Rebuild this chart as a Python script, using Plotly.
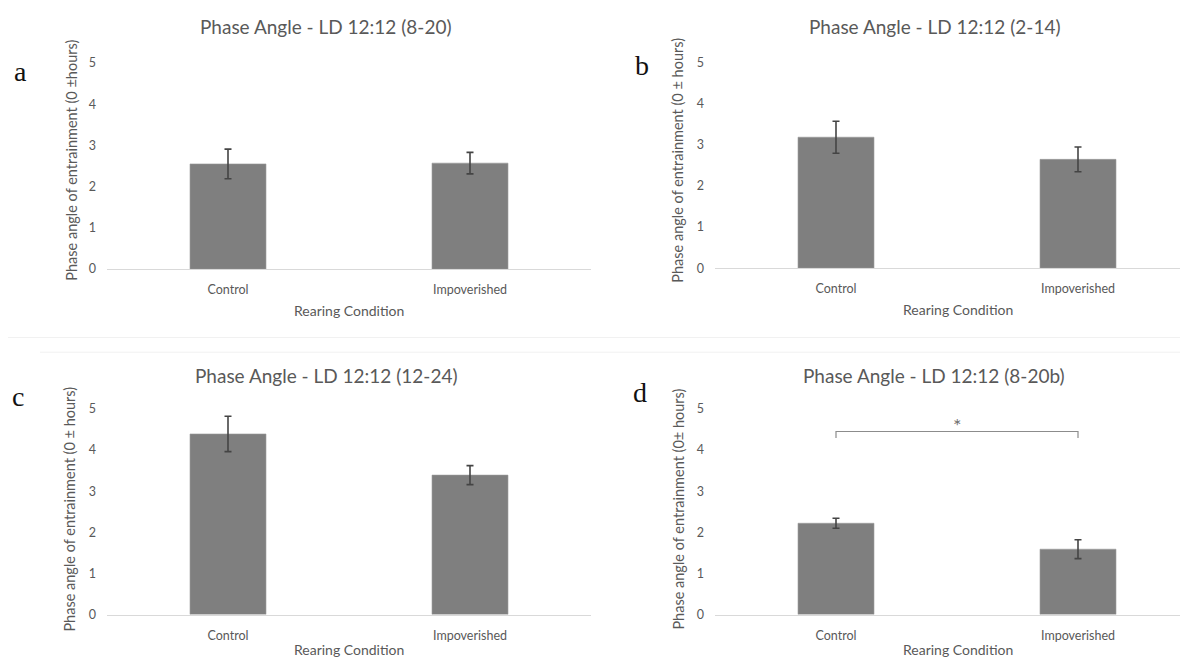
import plotly.graph_objects as go

# ---------------- data ----------------
categories = ["Control", "Impoverished"]

titles = [
    "Phase Angle - LD 12:12 (8-20)",
    "Phase Angle - LD 12:12 (2-14)",
    "Phase Angle - LD 12:12 (12-24)",
    "Phase Angle - LD 12:12 (8-20b)",
]
panel_letters = ["a", "b", "c", "d"]
y_titles = [
    "Phase angle of entrainment (0 ±hours)",
    "Phase angle of entrainment (0 ± hours)",
    "Phase angle of entrainment (0 ± hours)",
    "Phase angle of entrainment (0± hours)",
]
x_title = "Rearing Condition"

means_a = [2.55, 2.57]
errs_a = [0.36, 0.26]
means_b = [3.19, 2.65]
errs_b = [0.39, 0.30]
means_c = [4.39, 3.39]
errs_c = [0.43, 0.23]
means_d = [2.22, 1.59]
errs_d = [0.12, 0.23]

y_ticks = [0, 1, 2, 3, 4, 5]

# significance bracket in panel d
sig_pair = [0, 1]          # category indices
sig_level = 4.45
sig_drop = 4.29
sig_label = "*"
sig_label_y = 4.62

means = [means_a, means_b, means_c, means_d]
errs = [errs_a, errs_b, errs_c, errs_d]

# ---------------- layout geometry (pixels of the 1188x669 window) ----------------
WIN_W, WIN_H = 1188, 669
OFF = 8                      # default page body margin
W, H = WIN_W - OFF, WIN_H - OFF
FONT = "Lato, 'Open Sans', sans-serif"
GREY_TXT = "#595959"


def px(x):
    return (x - OFF) / W


def py(y):
    return 1 - (y - OFF) / H


# plot areas: (left, right, top(5), bottom(0)) in window pixels
areas = [
    (107, 591, 56, 267),
    (715, 1199, 56, 266),
    (107, 591, 410, 620.5),
    (715, 1199, 410, 620.5),
]

fig = go.Figure()

for i in range(4):
    n = "" if i == 0 else str(i + 1)
    fig.add_trace(go.Bar(
        x=categories, y=means[i],
        xaxis="x" + n, yaxis="y" + n,
        width=0.314,
        marker=dict(color="#7f7f7f", line=dict(color="#9a9a9a", width=0.6)),
        error_y=dict(type="data", array=errs[i], visible=True,
                     color="#444444", thickness=1.6, width=3.5),
        showlegend=False, hoverinfo="skip",
    ))
    left, right, top, bottom = areas[i]
    right_clip = min(right, WIN_W)
    spacing = (right - left) / 2.0
    xr_hi = 1.5 - (right - right_clip) / spacing
    fig.layout["xaxis" + n] = dict(
        domain=[px(left), min(1.0, px(right_clip))],
        anchor="y" + n,
        range=[-0.5, xr_hi],
        showgrid=False, zeroline=False,
        showline=True, linecolor="#d9d9d9", linewidth=1.2,
        ticks="", ticklabelstandoff=9,
        tickfont=dict(family=FONT, size=12.5, color=GREY_TXT),
        fixedrange=True,
    )
    fig.layout["yaxis" + n] = dict(
        domain=[py(bottom), py(top)],
        anchor="x" + n,
        range=[0, 5],
        tickvals=y_ticks,
        showgrid=False, zeroline=False, showline=False,
        ticks="", ticklabelstandoff=10,
        tickfont=dict(family=FONT, size=12.5, color=GREY_TXT),
        fixedrange=True,
    )

# ---------------- text ----------------
title_pos = [(325.5, 19), (935, 19), (326, 376), (934, 376)]
letter_pos = [(20, 65), (642, 59), (18, 397), (640, 393)]
ytitle_pos = [(72, 156), (678, 156), (70, 513), (679, 513)]
xtitle_pos = [(349, 309), (958, 308), (349, 656), (958, 656)]

ann = []
for i in range(4):
    ann.append(dict(text=titles[i], x=px(title_pos[i][0]), y=py(title_pos[i][1]),
                    xref="paper", yref="paper", showarrow=False,
                    xanchor="center", yanchor="middle",
                    font=dict(family=FONT, size=19, color=GREY_TXT)))
    ann.append(dict(text=panel_letters[i], x=px(letter_pos[i][0]), y=py(letter_pos[i][1]),
                    xref="paper", yref="paper", showarrow=False,
                    xanchor="center", yanchor="middle",
                    font=dict(family="'Liberation Serif', 'DejaVu Serif', serif",
                              size=28, color="#111111")))
    ann.append(dict(text=y_titles[i], x=px(ytitle_pos[i][0]), y=py(ytitle_pos[i][1]),
                    xref="paper", yref="paper", showarrow=False, textangle=-90,
                    xanchor="center", yanchor="middle",
                    font=dict(family=FONT, size=14.5, color=GREY_TXT)))
    ann.append(dict(text=x_title, x=px(xtitle_pos[i][0]), y=py(xtitle_pos[i][1]),
                    xref="paper", yref="paper", showarrow=False,
                    xanchor="center", yanchor="middle",
                    font=dict(family=FONT, size=14, color=GREY_TXT)))

# significance marker (panel d)
ann.append(dict(text=sig_label, x=(sig_pair[0] + sig_pair[1]) / 2.0, y=sig_label_y,
                xref="x4", yref="y4", showarrow=False,
                xanchor="center", yanchor="middle",
                font=dict(family=FONT, size=20, color="#6f6f6f")))

shapes = [
    dict(type="path", xref="x4", yref="y4",
         path=(f"M {sig_pair[0]},{sig_drop} L {sig_pair[0]},{sig_level} "
               f"L {sig_pair[1]},{sig_level} L {sig_pair[1]},{sig_drop}"),
         line=dict(color="#8c8c8c", width=1.2)),
    # faint chart-area borders
    dict(type="line", xref="paper", yref="paper", x0=0, x1=1, y0=py(337), y1=py(337),
         line=dict(color="#f1f1f1", width=1)),
    dict(type="line", xref="paper", yref="paper", x0=px(40), x1=1, y0=py(352), y1=py(352),
         line=dict(color="#f1f1f1", width=1)),
]

fig.update_layout(
    width=W, height=H,
    margin=dict(l=0, r=0, t=0, b=0),
    paper_bgcolor="white", plot_bgcolor="white",
    annotations=ann, shapes=shapes,
    bargap=0.686,
)

fig.write_html("out.html")
